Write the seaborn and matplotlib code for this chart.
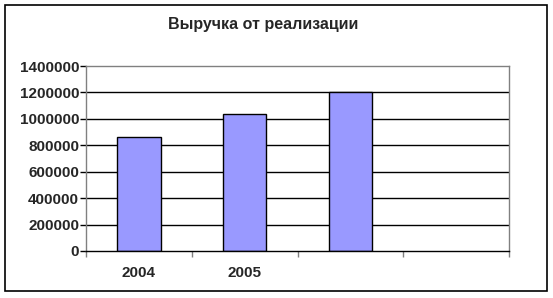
import numpy as np
import pandas as pd
import matplotlib
matplotlib.use("Agg")
import matplotlib.pyplot as plt
import seaborn as sns
from matplotlib.patches import Rectangle

title = "Выручка от реализации"
slots = ["s1", "s2", "s3", "s4"]
tick_labels = ["2004", "2005", "", ""]
values = [865000, 1035000, 1200000, np.nan]
yticks = [0, 200000, 400000, 600000, 800000, 1000000, 1200000, 1400000]

sns.set_theme(style="white")
plt.rcParams['font.family'] = ['Liberation Sans', 'DejaVu Sans']

df = pd.DataFrame({"slot": slots, "value": values})

fig = plt.figure(figsize=(5.53, 2.98), dpi=100)
ax = fig.add_axes([86/553, 1-251/298, (509-86)/553, (251-66)/298])

sns.barplot(data=df.dropna(), x="slot", y="value", order=slots, ax=ax,
            color="#9999FF", saturation=1, width=0.41,
            edgecolor="black", linewidth=1)

ax.set_xlim(-0.5, 3.5)
ax.set_ylim(0, 1400000)
ax.set_xlabel("")
ax.set_ylabel("")

for y in yticks[1:-1]:
    ax.axhline(y, color="black", lw=1, zorder=0)

ax.set_yticks(yticks)
ax.set_yticklabels([str(v) for v in yticks], fontsize=11, fontweight="bold")
ax.set_xticks(range(4))
ax.set_xticklabels(tick_labels, fontsize=11, fontweight="bold")
ax.tick_params(axis="x", which="major", length=0, pad=11)
ax.set_xticks([-0.5, 0.5, 1.5, 2.5, 3.5], minor=True)
ax.tick_params(axis="x", which="minor", length=4, color="#808080", width=1, direction="out", bottom=True)
ax.tick_params(axis="y", length=4, color="black", width=1, direction="out", left=True, pad=1)

for side in ["top", "right", "left"]:
    ax.spines[side].set_color("#808080")
    ax.spines[side].set_linewidth(1)
ax.spines["bottom"].set_color("black")
ax.spines["bottom"].set_linewidth(1)

fig.text(263/553, 1-25/298, title, ha="center", va="center", fontsize=11.5, fontweight="bold")

fig.patches.append(Rectangle((5/553, 1-291/298), (547-5)/553, (291-5)/298,
                             transform=fig.transFigure, fill=False, edgecolor="black", lw=1.2))

fig.savefig("out.png", dpi=100, facecolor="white")
